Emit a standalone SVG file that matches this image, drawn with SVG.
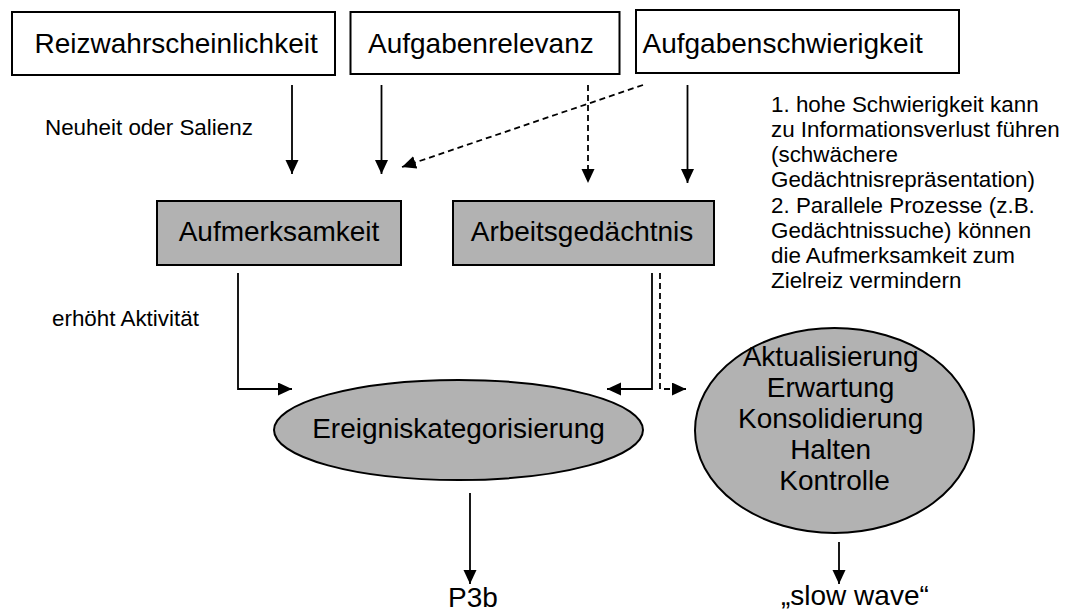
<svg xmlns="http://www.w3.org/2000/svg" width="1073" height="613" viewBox="0 0 1073 613">
<style>
text{font-family:"Liberation Sans",Arial,Helvetica,sans-serif;fill:#000}
.big{font-size:28px}
.small{font-size:22.4px}
.box{fill:#fff;stroke:#000;stroke-width:2}
.gray{fill:#b2b2b2;stroke:#000;stroke-width:2}
.c{fill:none;stroke:#000;stroke-width:1.8}
.d{stroke-dasharray:6,4}
</style>
<defs>
<marker id="ah" markerUnits="userSpaceOnUse" markerWidth="15" markerHeight="14" refX="14" refY="6.5" orient="auto" viewBox="0 0 15 14">
<path d="M0,0 L14,6.5 L0,13 z" fill="#000"/>
</marker>
</defs>
<rect width="1073" height="613" fill="#fff"/>

<g id="n-reiz">
<rect class="box" x="12" y="12" width="323" height="63"/>
<text class="big" x="34.5" y="53">Reizwahrscheinlichkeit</text>
</g>
<g id="n-relevanz">
<rect class="box" x="350.5" y="12" width="269" height="62"/>
<text class="big" x="368" y="53">Aufgabenrelevanz</text>
</g>
<g id="n-schwierigkeit">
<rect class="box" x="636" y="10" width="323" height="63"/>
<text class="big" x="642.5" y="53">Aufgabenschwierigkeit</text>
</g>
<g id="n-aufmerksamkeit">
<rect class="gray" x="157" y="201" width="244" height="64"/>
<text class="big" x="279" y="241" text-anchor="middle">Aufmerksamkeit</text>
</g>
<g id="n-arbeitsgedaechtnis">
<rect class="gray" x="453" y="201" width="261" height="64"/>
<text class="big" x="582" y="241" text-anchor="middle">Arbeitsgedächtnis</text>
</g>
<g id="n-ereignis">
<ellipse class="gray" cx="458.5" cy="430" rx="184.5" ry="50"/>
<text class="big" x="458.5" y="438" text-anchor="middle">Ereigniskategorisierung</text>
</g>
<g id="n-prozesse">
<ellipse class="gray" cx="834.5" cy="430.5" rx="139.5" ry="102.5"/>
<text class="big" text-anchor="middle">
<tspan x="834.5" y="366">Aktualisierung</tspan>
<tspan x="834.5" y="397">Erwartung</tspan>
<tspan x="834.5" y="428">Konsolidierung</tspan>
<tspan x="834.5" y="459">Halten</tspan>
<tspan x="834.5" y="490">Kontrolle</tspan>
</text>
</g>
<g id="n-p3b">
<text class="big" x="473" y="607" text-anchor="middle">P3b</text>
</g>
<g id="n-slowwave">
<text class="big" x="781" y="605">„slow wave“</text>
</g>
<g id="labels">
<text class="small" x="45" y="135">Neuheit oder Salienz</text>
<text class="small" x="52" y="326">erhöht Aktivität</text>
<text class="small">
<tspan x="771" y="111.7">1. hohe Schwierigkeit kann</tspan>
<tspan x="771" y="136.9">zu Informationsverlust führen</tspan>
<tspan x="771" y="162.1">(schwächere</tspan>
<tspan x="771" y="187.4">Gedächtnisrepräsentation)</tspan>
<tspan x="771" y="212.6">2. Parallele Prozesse (z.B.</tspan>
<tspan x="771" y="237.9">Gedächtnissuche) können</tspan>
<tspan x="771" y="263.1">die Aufmerksamkeit zum</tspan>
<tspan x="771" y="288.3">Zielreiz vermindern</tspan>
</text>
</g>

<g id="connectors">
<line class="c" x1="292" y1="85" x2="292" y2="174" marker-end="url(#ah)"/>
<line class="c" x1="381.5" y1="85" x2="381.5" y2="174" marker-end="url(#ah)"/>
<line class="c d" x1="643" y1="85" x2="402" y2="167" marker-end="url(#ah)"/>
<line class="c d" x1="588" y1="85" x2="588" y2="183" marker-end="url(#ah)"/>
<line class="c" x1="687.5" y1="85" x2="687.5" y2="183" marker-end="url(#ah)"/>
<polyline class="c" points="238,273 238,389 292,389" marker-end="url(#ah)"/>
<polyline class="c" points="652,273 652,389 607,389" marker-end="url(#ah)"/>
<polyline class="c d" points="660,273 660,389 686,389" marker-end="url(#ah)"/>
<line class="c" x1="470" y1="493" x2="470" y2="584" marker-end="url(#ah)"/>
<line class="c" x1="839" y1="542" x2="839" y2="584" marker-end="url(#ah)"/>
</g>
</svg>
